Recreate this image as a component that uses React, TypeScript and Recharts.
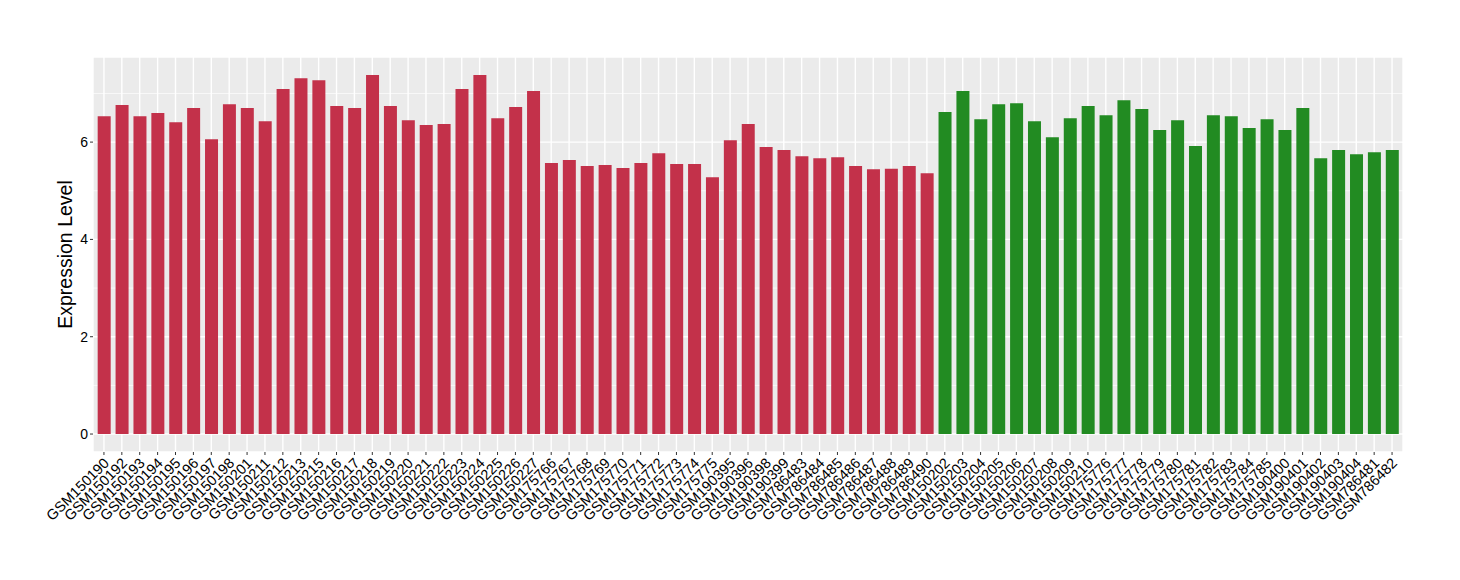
import { BarChart, Bar, Cell, XAxis, YAxis, CartesianGrid } from "recharts";

// sample ids and expression values
const redSamples = [
  "GSM150190", "GSM150192", "GSM150193", "GSM150194", "GSM150195", "GSM150196",
  "GSM150197", "GSM150198", "GSM150201", "GSM150211", "GSM150212", "GSM150213",
  "GSM150215", "GSM150216", "GSM150217", "GSM150218", "GSM150219", "GSM150220",
  "GSM150221", "GSM150222", "GSM150223", "GSM150224", "GSM150225", "GSM150226",
  "GSM150227", "GSM175766", "GSM175767", "GSM175768", "GSM175769", "GSM175770",
  "GSM175771", "GSM175772", "GSM175773", "GSM175774", "GSM175775", "GSM190395",
  "GSM190396", "GSM190398", "GSM190399", "GSM786483", "GSM786484", "GSM786485",
  "GSM786486", "GSM786487", "GSM786488", "GSM786489", "GSM786490",
];
const redValues = [
  6.53, 6.76, 6.53, 6.6, 6.41, 6.7, 6.06, 6.78, 6.7, 6.43, 7.09, 7.31, 7.27, 6.74,
  6.7, 7.38, 6.74, 6.45, 6.35, 6.37, 7.09, 7.38, 6.49, 6.72, 7.05, 5.57, 5.63, 5.51,
  5.53, 5.47, 5.57, 5.77, 5.55, 5.55, 5.28, 6.04, 6.37, 5.9, 5.84, 5.71, 5.67, 5.69,
  5.51, 5.44, 5.45, 5.51, 5.36,
];
const greenSamples = [
  "GSM150202", "GSM150203", "GSM150204", "GSM150205", "GSM150206", "GSM150207",
  "GSM150208", "GSM150209", "GSM150210", "GSM175776", "GSM175777", "GSM175778",
  "GSM175779", "GSM175780", "GSM175781", "GSM175782", "GSM175783", "GSM175784",
  "GSM175785", "GSM190400", "GSM190401", "GSM190402", "GSM190403", "GSM190404",
  "GSM786481", "GSM786482",
];
const greenValues = [
  6.62, 7.05, 6.47, 6.78, 6.8, 6.43, 6.1, 6.49, 6.74, 6.55, 6.86, 6.68, 6.25, 6.45,
  5.92, 6.55, 6.53, 6.29, 6.47, 6.25, 6.7, 5.67, 5.84, 5.75, 5.79, 5.84,
];
const majorTicks = [0, 2, 4, 6];
const minorTicks = [1, 3, 5, 7];

const RED = "#C3314A";
const GREEN = "#228B22";
const FONT = "'Liberation Sans', Arial, Helvetica, sans-serif";

const data = [
  ...redSamples.map((name, i) => ({ name, value: redValues[i], color: RED })),
  ...greenSamples.map((name, i) => ({ name, value: greenValues[i], color: GREEN })),
];
const yMax = Math.max(...data.map((d) => d.value));

function SampleTick({ x, y, payload }: any) {
  return (
    <g transform={`translate(${x + 6},${y + 9})`}>
      <text
        x={0}
        y={0}
        textAnchor="end"
        transform="rotate(-45)"
        fontSize={14.5}
        fontFamily={FONT}
        fill="#000"
      >
        {payload.value}
      </text>
    </g>
  );
}

function YTitle({ viewBox }: any) {
  const cx = viewBox.x + 12;
  const cy = viewBox.y + viewBox.height / 2;
  return (
    <text
      x={cx}
      y={cy}
      transform={`rotate(-90, ${cx}, ${cy})`}
      textAnchor="middle"
      dominantBaseline="central"
      fontSize={19.5}
      fontFamily={FONT}
      fill="#000"
    >
      Expression Level
    </text>
  );
}

export default function App() {
  return (
    <div style={{ position: "absolute", left: 0, top: 0, background: "#fff" }}>
      <BarChart
        width={1460}
        height={580}
        data={data}
        margin={{ top: 57, right: 57, bottom: 28, left: 53 }}
        barCategoryGap="15%"
      >
        <CartesianGrid
          fill="#EBEBEB"
          stroke="#fff"
          strokeWidth={0.7}
          vertical={false}
          horizontalValues={minorTicks}
        />
        <CartesianGrid stroke="#fff" strokeWidth={1.4} />
        <XAxis
          dataKey="name"
          interval={0}
          axisLine={false}
          tickSize={3}
          tickMargin={0}
          tickLine={{ stroke: "#333" }}
          padding={{ left: 2, right: 2 }}
          height={100}
          tick={<SampleTick />}
        />
        <YAxis
          width={40}
          domain={[-0.05 * yMax, 1.05 * yMax]}
          allowDataOverflow
          ticks={majorTicks}
          axisLine={false}
          tickSize={3}
          tickMargin={2}
          tickLine={{ stroke: "#333" }}
          tick={{ fill: "#000", fontSize: 14, fontFamily: FONT }}
          label={<YTitle />}
        />
        <Bar dataKey="value" isAnimationActive={false}>
          {data.map((d) => (
            <Cell key={d.name} fill={d.color} />
          ))}
        </Bar>
      </BarChart>
    </div>
  );
}
